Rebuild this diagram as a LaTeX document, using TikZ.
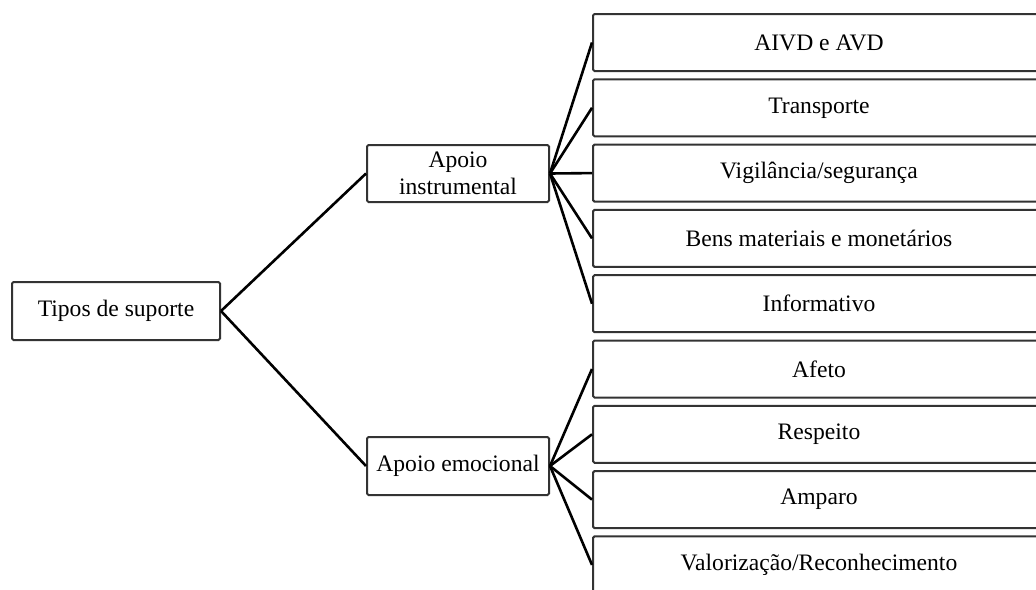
\documentclass[tikz,border=0pt]{standalone}
\usepackage{fontspec}
\setmainfont{Liberation Serif}
\begin{document}
\begin{tikzpicture}[x=1pt,y=-1pt,
  box/.style={draw=black!80, line width=2pt, rounded corners=1.5pt, fill=white,
    inner sep=0pt, align=center, font=\fontsize{23.6}{27}\selectfont},
  leafbox/.style={box, minimum width=452pt, minimum height=57pt},
  link/.style={line width=2.6pt, black}]
\useasboundingbox (0,0) rectangle (1036,589);
\clip (0,0) rectangle (1036,589);

% root and the two branches
\node[box, minimum width=208pt, minimum height=58pt] (root) at (116,311) {Tipos de suporte};
\node[box, minimum width=182pt, minimum height=57pt] (instr) at (458,173.5) {Apoio\\instrumental};
\node[box, minimum width=182pt, minimum height=58pt] (emoc) at (458,466) {Apoio emocional};

% leaves of the instrumental branch
\node[leafbox] (l1) at (819,42.5) {AIVD e AVD};
\node[leafbox] (l2) at (819,107.8) {Transporte};
\node[leafbox] (l3) at (819,173.1) {Vigilância/segurança};
\node[leafbox] (l4) at (819,238.4) {Bens materiais e monetários};
\node[leafbox] (l5) at (819,303.7) {Informativo};

% leaves of the emotional branch
\node[leafbox] (l6) at (819,369) {Afeto};
\node[leafbox] (l7) at (819,434.3) {Respeito};
\node[leafbox] (l8) at (819,499.6) {Amparo};
\node[leafbox] (l9) at (819,564.9) {Valorização/Reconhecimento};

% connectors
\draw[link] (root.east) -- (instr.west);
\draw[link] (root.east) -- (emoc.west);
\foreach \n in {l1,l2,l3,l4,l5} \draw[link] (instr.east) -- (\n.west);
\foreach \n in {l6,l7,l8,l9} \draw[link] (emoc.east) -- (\n.west);
\end{tikzpicture}
\end{document}
